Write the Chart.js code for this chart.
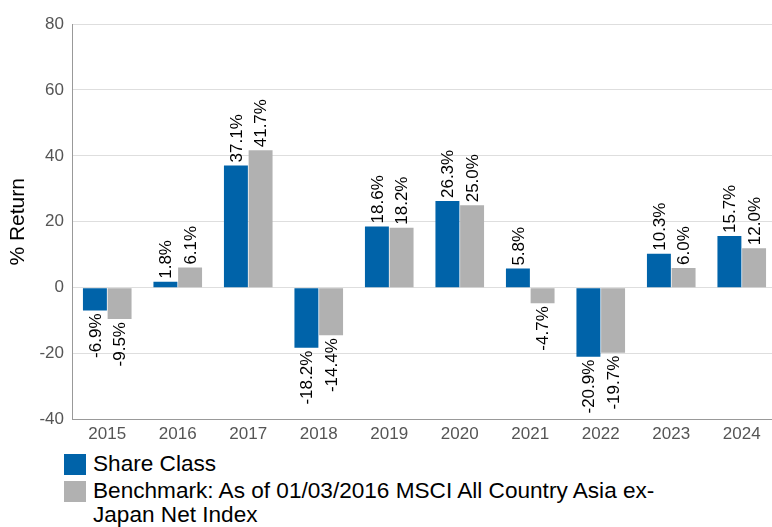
<!DOCTYPE html>
<html>
<head>
<meta charset="utf-8">
<script src="https://cdn.jsdelivr.net/npm/chart.js@4.4.1/dist/chart.umd.min.js"></script>
<style>
  body { margin: 0; overflow: hidden; background: #fff; font-family: "Liberation Sans", Arial, sans-serif; }
  #wrap { position: absolute; left: 0; top: 0; width: 777px; height: 450px; }
  #legend { position: absolute; left: 64px; top: 452px; }
  .item { display: flex; align-items: flex-start; font-size: 22.6px; line-height: 24px; color: #000; margin-bottom: 3px; }
  .box { width: 22px; height: 21px; margin-right: 7px; margin-top: 2px; flex: none; }
  .txt { max-width: 600px; }
</style>
</head>
<body>
<div id="wrap"><canvas id="returns"></canvas></div>
<div id="legend"></div>
<script>
// Calendar year returns
const years = ['2015', '2016', '2017', '2018', '2019', '2020', '2021', '2022', '2023', '2024'];
const shareClass = [-6.9, 1.8, 37.1, -18.2, 18.6, 26.3, 5.8, -20.9, 10.3, 15.7];
const benchmark = [-9.5, 6.1, 41.7, -14.4, 18.2, 25.0, -4.7, -19.7, 6.0, 12.0];
const seriesNames = ['Share Class', 'Benchmark: As of 01/03/2016 MSCI All Country Asia ex-Japan Net Index'];
const seriesColors = ['#0063a9', '#b1b1b1'];
const yTicks = { min: -40, max: 80, step: 20 };

const font = '"Liberation Sans", Arial, sans-serif';

// rotated value labels above / below each bar
const valueLabels = {
    id: 'valueLabels',
    afterDatasetsDraw(chart) {
        const ctx = chart.ctx;
        ctx.save();
        ctx.font = '17px ' + font;
        ctx.fillStyle = '#000';
        ctx.textBaseline = 'middle';
        chart.data.datasets.forEach((ds, i) => {
            chart.getDatasetMeta(i).data.forEach((bar, j) => {
                const v = ds.data[j];
                ctx.save();
                ctx.translate(bar.x + 1, v >= 0 ? bar.y - 3 : bar.y + 3);
                ctx.rotate(-Math.PI / 2);
                ctx.textAlign = v >= 0 ? 'left' : 'right';
                ctx.fillText(v.toFixed(1) + '%', 0, 0);
                ctx.restore();
            });
        });
        ctx.restore();
    }
};

new Chart(document.getElementById('returns'), {
    type: 'bar',
    data: {
        labels: years,
        datasets: [{
            label: seriesNames[0],
            data: shareClass,
            backgroundColor: seriesColors[0],
            categoryPercentage: 0.7,
            barPercentage: 0.97
        }, {
            label: seriesNames[1],
            data: benchmark,
            backgroundColor: seriesColors[1],
            categoryPercentage: 0.7,
            barPercentage: 0.97
        }]
    },
    options: {
        responsive: true,
        maintainAspectRatio: false,
        animation: false,
        layout: { padding: { top: 24, right: 0, bottom: 0, left: 0 } },
        plugins: {
            legend: { display: false },
            tooltip: { enabled: false }
        },
        scales: {
            x: {
                grid: { display: false, drawTicks: false },
                border: { color: '#999' },
                ticks: { color: '#555', padding: 5, font: { size: 17, family: font } }
            },
            y: {
                min: yTicks.min,
                max: yTicks.max,
                afterFit: (scale) => { scale.width = 72; },
                grid: { color: '#dedede', drawTicks: false },
                border: { color: '#999' },
                ticks: { stepSize: yTicks.step, color: '#555', padding: 8, font: { size: 17, family: font } },
                title: {
                    display: true,
                    text: '% Return',
                    color: '#000',
                    padding: { top: 6, bottom: 0 },
                    font: { size: 21, family: font }
                }
            }
        }
    },
    plugins: [valueLabels]
});

// legend below the chart
const legend = document.getElementById('legend');
seriesNames.forEach((name, i) => {
    const item = document.createElement('div');
    item.className = 'item';
    item.innerHTML = '<span class="box" style="background:' + seriesColors[i] + '"></span><span class="txt"></span>';
    item.querySelector('.txt').textContent = name;
    legend.appendChild(item);
});
</script>
</body>
</html>
